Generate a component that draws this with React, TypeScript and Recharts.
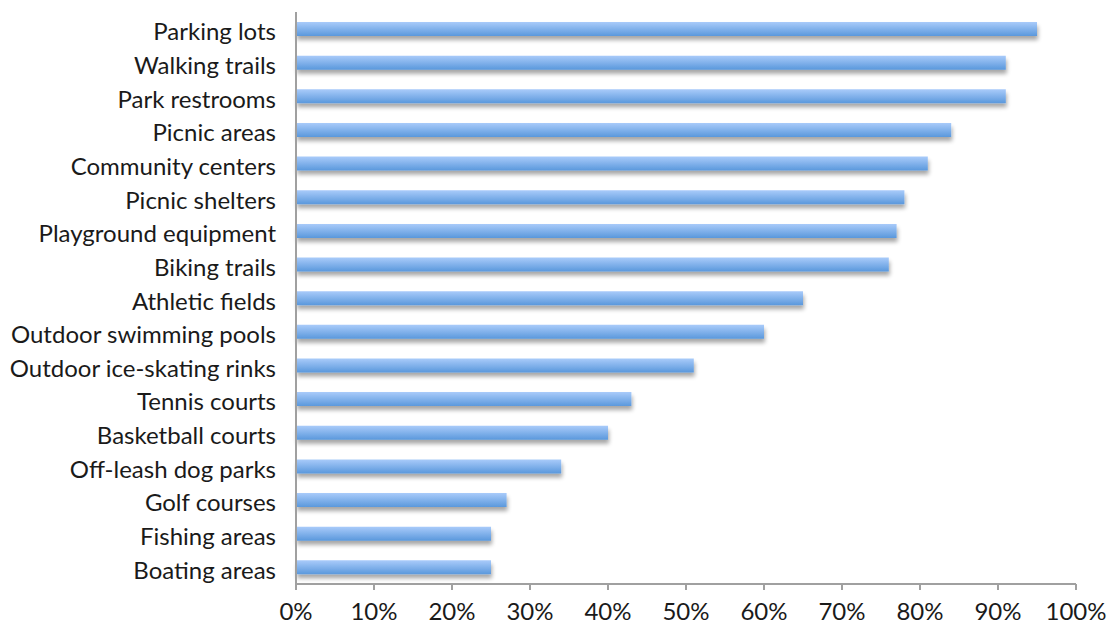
import React from 'react';
import { BarChart, Bar, XAxis, YAxis, Rectangle } from 'recharts';

const categories = [
  'Parking lots', 'Walking trails', 'Park restrooms', 'Picnic areas', 'Community centers',
  'Picnic shelters', 'Playground equipment', 'Biking trails', 'Athletic fields',
  'Outdoor swimming pools', 'Outdoor ice-skating rinks', 'Tennis courts', 'Basketball courts',
  'Off-leash dog parks', 'Golf courses', 'Fishing areas', 'Boating areas',
];
const values = [95, 91, 91, 84, 81, 78, 77, 76, 65, 60, 51, 43, 40, 34, 27, 25, 25];
const xTicks = [0, 10, 20, 30, 40, 50, 60, 70, 80, 90, 100];

const data = categories.map((name, i) => ({ name, value: values[i] }));

const font = 'Lato, "Open Sans", sans-serif';

const BarShape = (props: any) => (
  <Rectangle {...props} fill="url(#barGrad)" filter="url(#barShadow)" />
);

export default function App() {
  return (
    <div style={{ position: 'absolute', left: 0, top: 0, background: '#fff' }}>
      <BarChart
        width={1108}
        height={628}
        data={data}
        layout="vertical"
        margin={{ top: 12, right: 32, bottom: 4, left: 0 }}
        barCategoryGap={0}
      >
        <defs>
          <linearGradient id="barGrad" x1="0" y1="0" x2="0" y2="1">
            <stop offset="0%" stopColor="#a9cbfa" />
            <stop offset="100%" stopColor="#5a98dc" />
          </linearGradient>
          <filter id="barShadow" x="-5%" y="-50%" width="110%" height="250%">
            <feGaussianBlur in="SourceAlpha" stdDeviation="2" />
            <feOffset dx="1" dy="4" result="blur" />
            <feComponentTransfer>
              <feFuncA type="linear" slope="0.35" />
            </feComponentTransfer>
            <feMerge>
              <feMergeNode />
              <feMergeNode in="SourceGraphic" />
            </feMerge>
          </filter>
        </defs>
        <XAxis
          type="number"
          domain={[0, 100]}
          ticks={xTicks}
          tickFormatter={(v: number) => `${v}%`}
          axisLine={{ stroke: '#a0a0a0', strokeWidth: 2 }}
          tickLine={{ stroke: '#a0a0a0', strokeWidth: 2 }}
          tickSize={6}
          tickMargin={13}
          height={40}
          tick={{ fill: '#1a1a1a', fontSize: 24, fontFamily: font }}
          interval={0}
        />
        <YAxis
          type="category"
          dataKey="name"
          width={296}
          axisLine={{ stroke: '#a0a0a0', strokeWidth: 2 }}
          tickLine={false}
          tickSize={0}
          tickMargin={20}
          tick={{ fill: '#1a1a1a', fontSize: 24, fontFamily: font, dy: 3 }}
          interval={0}
        />
        <Bar dataKey="value" barSize={14} isAnimationActive={false} shape={BarShape} />
      </BarChart>
    </div>
  );
}
